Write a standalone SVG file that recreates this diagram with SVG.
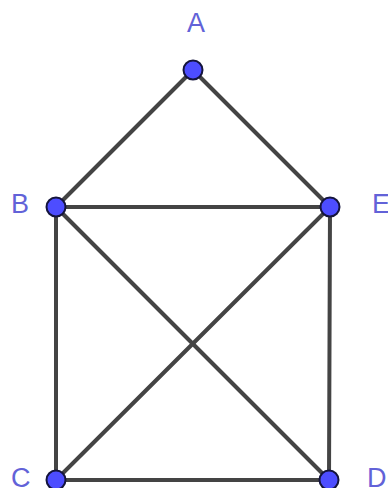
<svg xmlns="http://www.w3.org/2000/svg" width="388" height="488" viewBox="0 0 388 488">
<style>
.e{stroke:#444444;stroke-width:4;stroke-linecap:round}
.p{fill:#4d4dff;stroke:#14143c;stroke-width:2}
.l{font-family:"Liberation Sans",Arial,sans-serif;font-size:27px;fill:#6262d8}
</style>
<rect width="388" height="488" fill="#ffffff"/>
<g id="connectors">
<line class="e" x1="193" y1="70" x2="56" y2="207"/>
<line class="e" x1="193" y1="70" x2="330" y2="207"/>
<line class="e" x1="56" y1="207" x2="330" y2="207"/>
<line class="e" x1="56" y1="207" x2="56" y2="480"/>
<line class="e" x1="56" y1="207" x2="329" y2="480"/>
<line class="e" x1="330" y1="207" x2="56" y2="480"/>
<line class="e" x1="330" y1="207" x2="329" y2="480"/>
<line class="e" x1="56" y1="480" x2="329" y2="480"/>
</g>
<g id="A"><circle class="p" cx="193" cy="70" r="9.5"/><text class="l" x="187" y="32">A</text></g>
<g id="B"><circle class="p" cx="56" cy="207" r="9.5"/><text class="l" x="11" y="213">B</text></g>
<g id="E"><circle class="p" cx="330" cy="207" r="9.5"/><text class="l" x="372" y="213">E</text></g>
<g id="C"><circle class="p" cx="56" cy="480" r="9.5"/><text class="l" x="11" y="487">C</text></g>
<g id="D"><circle class="p" cx="329" cy="480" r="9.5"/><text class="l" x="367" y="487">D</text></g>
</svg>
